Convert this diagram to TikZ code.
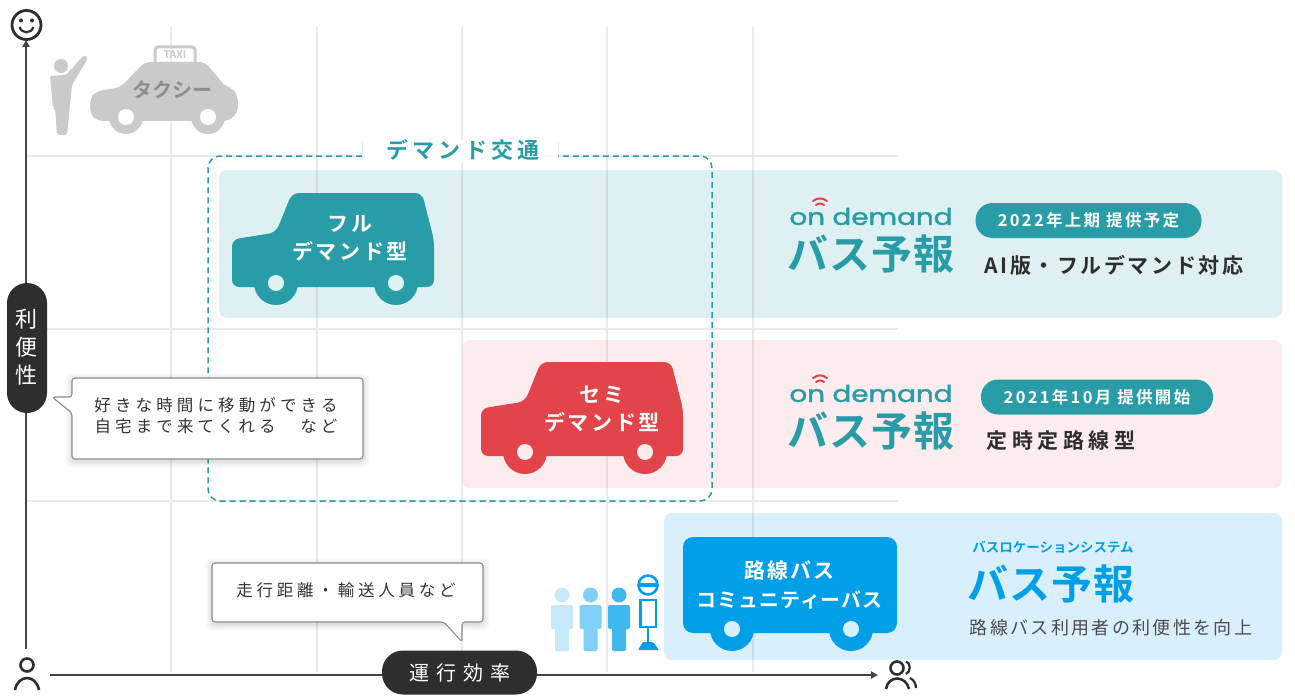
\documentclass[tikz,border=0pt]{standalone}
\usepackage{fontspec}
\usepackage{graphicx}
\setmainfont{Noto Sans CJK JP}
\newfontfamily\jp{Noto Sans CJK JP}
\newfontfamily\jpb{Noto Sans CJK JP Bold}
\newfontfamily\lat[FakeBold=1.5]{Poppins}
\newcommand\tx[2]{\fontsize{#1}{#1}\selectfont\addfontfeature{LetterSpace=#2}}
\definecolor{teal1}{HTML}{289DA8}
\definecolor{red1}{HTML}{E24449}
\definecolor{blue1}{HTML}{009FE8}
\definecolor{pteal}{HTML}{DFF0F3}
\definecolor{ppink}{HTML}{FCECED}
\definecolor{pblue}{HTML}{D9F0FC}
\definecolor{gridc}{HTML}{EAEAEA}
\definecolor{ink}{HTML}{2E2E2E}
\definecolor{axisc}{HTML}{444444}
\definecolor{taxi}{HTML}{C9CACA}
\usetikzlibrary{arrows.meta}
\tikzset{
  gridline/.style={draw=gridc,line width=1.6},
  panelbox/.style={rounded corners=8,blend mode=multiply},
  axisline/.style={draw=axisc,line width=1.8,-{Triangle[length=7,width=7]}},
  darkpill/.style={fill=ink,text=white,inner sep=0,align=center},
  tagpill/.style={fill=teal1,text=white,inner sep=0,rounded corners=17},
  call/.style={draw=black!45,line width=1.1,fill=white,rounded corners=3,line join=round},
  lab/.style={inner sep=0,align=center},
  iconline/.style={draw=ink,line width=2.6,fill=none},
}
\newcommand\carbody[3]{%
  \begin{scope}[shift={(#1,#2)}]
  \fill[#3,rounded corners=7] (232,287) -- (232,239.5) -- (276,232.5) -- (292,193) -- (422,193) -- (434,240) -- (434,287) -- cycle;
  \fill[#3] (276,283) circle[radius=22] (396,283) circle[radius=22];
  \end{scope}}
\newcommand\logo[3]{%
  \begin{scope}[shift={(#1,#2)},name prefix=#3]
  \node[lab,text=teal1] (od) at (871,216.5) {\resizebox{163pt}{17pt}{\lat on demand}};
  \draw[red1,line width=2,line cap=round] (813,201) .. controls (818,197.5) and (822,197.5) .. (827,201);
  \draw[red1,line width=2,line cap=round] (816,205) .. controls (819,203) and (821,203) .. (824,205);
  \node[lab,text=teal1] (by) at (871,254) {\jpb\tx{41}{2}バス予報};
  \end{scope}}
\newcommand\person[2]{%
  \fill[#2] (#1,595) circle[radius=7.5];
  \fill[#2,rounded corners=2] (#1-11,605) rectangle (#1+11,629);
  \fill[#2,rounded corners=2] (#1-7,620) rectangle (#1+7,651);
}
\begin{document}
\begin{tikzpicture}[x=1pt,y=-1pt]
\useasboundingbox (0,0) rectangle (1295,698);
\fill[white] (0,0) rectangle (1295,698);
% grid
\foreach \gx in {171,317,462,607,753} \draw[gridline] (\gx,27) -- (\gx,672);
\foreach \gy in {156,329,501} \draw[gridline] (27,\gy) -- (898,\gy);
% panels
\fill[pteal,panelbox] (219,170) rectangle (1282,318);
\fill[ppink,panelbox] (462,340) rectangle (1282,488);
\fill[pblue,panelbox] (664,513) rectangle (1282,660);
% dashed box
\fill[white] (362,140) rectangle (558,163);
\draw[draw=gridc,line width=1] (362,142) -- (362,160) (558,142) -- (558,160);
\draw[teal1,line width=1.5,dash pattern=on 6pt off 4pt,rounded corners=12] (362,156) -- (208,156) -- (208,501) -- (712,501) -- (712,156) -- (558,156);
\node[lab,text=teal1] (dt) at (463,150) {\jpb\tx{22}{20}デマンド交通};
% axes
\coordinate (yb) at (26,649); \coordinate (yt) at (26,40);
\coordinate (xl) at (50,675); \coordinate (xr) at (878,675);
\draw[axisline] (yb) -- (yt);
\draw[axisline] (xl) -- (xr);
% smile
\node[circle,draw=ink,line width=2.8,minimum size=29,inner sep=0] (smile) at (26.5,25) {};
\fill[ink] (21,20.5) circle[radius=2] (32,20.5) circle[radius=2];
\draw[ink,line width=2.2] (19.5,27) .. controls (22,34) and (31,34) .. (33.5,27);
% persons
\draw[iconline] (27,665) circle[radius=6.5];
\draw[iconline] (15,690) .. controls (18,674) and (36,674) .. (39,690);
\draw[iconline] (897,668) circle[radius=6.5];
\draw[iconline] (886,689) .. controls (888,675) and (906,675) .. (909,689);
\draw[ink,line width=2.2] (906,661.5) .. controls (911,663) and (911,672) .. (906,674);
\draw[ink,line width=2.2] (910,678) .. controls (914,680) and (916,684) .. (916,688);
% taxi
\draw[taxi,line width=3,rounded corners=3] (155,62) -- (155,47) -- (195,47) -- (195,62);
\node[lab,text=taxi] (ttag) at (175,55) {\jpb\fontsize{10.5}{10.5}\selectfont TAXI};
\fill[taxi,rounded corners=6] (97,121) -- (90,113) -- (90,98) -- (97,91) -- (120,87.5) -- (145,62) -- (205,62) -- (226,87) -- (233,88) -- (238,97) -- (238,112) -- (229,121) -- cycle;
\fill[taxi] (126,117) circle[radius=17] (208,117) circle[radius=17];
\fill[white] (126,117) circle[radius=8] (208,117) circle[radius=8];
\node[lab,text=black!45] (tx) at (172,90) {\jpb\tx{20}{0}タクシー};
\fill[taxi] (61,66) circle[radius=7];
\fill[taxi,rounded corners=2] (50,76) -- (66,75) -- (84,55) -- (88,58) -- (72,85) -- (67,135) -- (57,135) -- (55,108) -- (53,108) -- cycle;
% full car
\carbody{0}{0}{teal1}
\fill[pteal] (276,283) circle[radius=8] (396,283) circle[radius=8];
\node[lab,text=white] (full) at (350,238) {\jpb\tx{21}{12}フル\\[8pt]\jpb\tx{21}{12}デマンド型};
% semi car
\carbody{249}{169}{red1}
\fill[ppink] (525,452) circle[radius=8] (645,452) circle[radius=8];
\node[lab,text=white] (semi) at (602,409) {\jpb\tx{21}{12}セミ\\[8pt]\jpb\tx{21}{12}デマンド型};
% bus
\fill[blue1,rounded corners=10] (683,537) rectangle (897,633);
\fill[blue1] (732,629) circle[radius=22] (851,629) circle[radius=22];
\fill[pblue] (732,629) circle[radius=8] (851,629) circle[radius=8];
\node[lab,text=white] (bus) at (789.5,585) {\jpb\tx{21}{10}路線バス\\[9pt]\jpb\tx{20}{5}コミュニティーバス};
% people
\person{562}{pblue!60!blue1!45}
\person{590.5}{blue1!50}
\person{619}{blue1!75}
\draw[blue1,line width=2.6] (648,585) circle[radius=9.5];
\fill[blue1] (639,583) rectangle (657,587);
\draw[blue1,line width=2.4] (640.5,600) rectangle (656,627);
\draw[blue1,line width=2.4] (648,627) -- (648,643);
\fill[blue1,rounded corners=1] (638,650) -- (643,642) -- (653,642) -- (659,650) -- cycle;
% logos
\logo{0}{0}{a}
\logo{0}{177}{b}
\node[tagpill,minimum width=226,minimum height=35] (t1) at (1088.5,220.5) {\jpb\tx{16.5}{14}2022年上期 提供予定};
\node[lab,text=ink] (d1) at (1114,265) {\jpb\tx{21}{12}AI版・フルデマンド対応};
\node[tagpill,minimum width=232,minimum height=35] (t2) at (1097,397) {\jpb\tx{16.5}{14}2021年10月 提供開始};
\node[lab,text=ink] (d2) at (1061,441) {\jpb\tx{21}{21}定時定路線型};
\node[lab,text=blue1] (loc) at (1053,547) {\jpb\tx{13.5}{0}バスロケーションシステム};
\node[lab,text=blue1] (by3) at (1051,584) {\jpb\tx{41}{2}バス予報};
\node[lab,text=black!70] (d3) at (1111,628) {\tx{18}{13}路線バス利用者の利便性を向上};
% callouts
\foreach \o/\s in {7/.012,6/.012,5/.015,4/.015,3/.02,2/.02,1/.02}{
  \fill[black,opacity=\s,rounded corners=6] (72-\o,378-\o+2) rectangle (363+\o,459+\o+2);
  \fill[black,opacity=\s,rounded corners=6] (212-\o,563-\o+2) rectangle (483+\o,622+\o+2);
}
\draw[call] (72,397) -- (52,397) -- (72,413) -- (72,459) -- (363,459) -- (363,378) -- (72,378) -- cycle;
\node[lab,text=black!80] (c1) at (216,416) {\tx{16.5}{25}好きな時間に移動ができる\\[5pt]\tx{16.5}{25}自宅まで来てくれる　など};
\draw[call] (212,563) -- (483,563) -- (483,622) -- (462,622) -- (462,642) -- (444,622) -- (212,622) -- cycle;
\node[lab,text=black!80] (c2) at (346,590) {\tx{16.5}{23}走行距離・輸送人員など};
% axis pills
\node[darkpill,rounded corners=20,minimum width=40,minimum height=130] (yp) at (27,348) {\raisebox{3pt}{\begin{tabular}{@{}c@{}}\tx{22}{0}利\\[6pt]\tx{22}{0}便\\[6pt]\tx{22}{0}性\end{tabular}}};
\node[darkpill,rounded corners=21,minimum width=155,minimum height=44] (xp) at (459.5,672.5) {\tx{20}{35}運行効率};
\end{tikzpicture}
\end{document}
